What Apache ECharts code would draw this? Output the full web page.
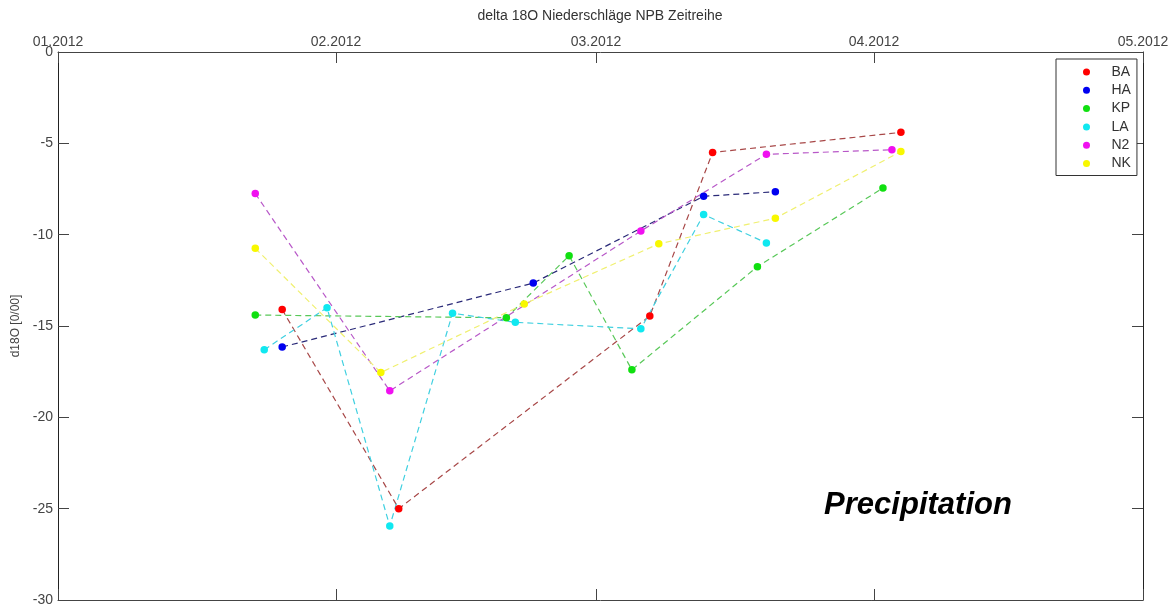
<!DOCTYPE html>
<html>
<head>
<meta charset="utf-8">
<style>
  html, body { margin: 0; padding: 0; background: #fff; }
  #chart { width: 1173px; height: 609px; }
</style>
<script src="https://cdn.jsdelivr.net/npm/echarts@6/dist/echarts.min.js"></script>
</head>
<body>
<div id="chart"></div>
<script>
// delta 18O in precipitation, one array pair per station
const baDates = ['2012-01-26', '2012-02-08', '2012-03-07', '2012-03-14', '2012-04-04'];
const baValues = [-14.1, -25.0, -14.45, -5.5, -4.4];

const haDates = ['2012-01-26', '2012-02-23', '2012-03-13', '2012-03-21'];
const haValues = [-16.15, -12.65, -7.9, -7.65];

const kpDates = ['2012-01-23', '2012-02-20', '2012-02-27', '2012-03-05', '2012-03-19', '2012-04-02'];
const kpValues = [-14.4, -14.55, -11.15, -17.4, -11.75, -7.45];

const laDates = ['2012-01-24', '2012-01-31', '2012-02-07', '2012-02-14', '2012-02-21', '2012-03-06', '2012-03-13', '2012-03-20'];
const laValues = [-16.3, -14.0, -25.95, -14.3, -14.8, -15.15, -8.9, -10.45];

const n2Dates = ['2012-01-23', '2012-02-07', '2012-03-06', '2012-03-20', '2012-04-03'];
const n2Values = [-7.75, -18.55, -9.8, -5.6, -5.35];

const nkDates = ['2012-01-23', '2012-02-06', '2012-02-22', '2012-03-08', '2012-03-21', '2012-04-04'];
const nkValues = [-10.75, -17.55, -13.8, -10.5, -9.1, -5.45];

const stationNames = ['BA', 'HA', 'KP', 'LA', 'N2', 'NK'];
const monthTickDates = ['2012-01-01', '2012-02-01', '2012-03-01', '2012-04-01', '2012-05-01'];

const markerColors = ['#ff0000', '#0000f0', '#10e010', '#10e8f0', '#f010f0', '#f8f800'];
const lineColors = ['#a84848', '#2a2a78', '#58c858', '#40d0e0', '#b858c8', '#f0f070'];

// dates -> ms, the x axis is a plain value axis in ms
const toMs = (s) => {
  const p = s.split('-').map(Number);
  return new Date(p[0], p[1] - 1, p[2]).getTime();
};
const zip = (dates, values) => dates.map((d, i) => [toMs(d), values[i]]);
const stationData = [
  zip(baDates, baValues),
  zip(haDates, haValues),
  zip(kpDates, kpValues),
  zip(laDates, laValues),
  zip(n2Dates, n2Values),
  zip(nkDates, nkValues),
];
const monthTicks = monthTickDates.map(toMs);

const fmtMonth = (v) => {
  const d = new Date(v);
  const m = d.getMonth() + 1;
  return (m < 10 ? '0' + m : m) + '.' + d.getFullYear();
};

const axisColor = '#444';
const labelStyle = {
  color: '#444',
  fontSize: 14,
  fontFamily: '"Liberation Sans", Arial, sans-serif',
};

const chart = echarts.init(document.getElementById('chart'));

chart.setOption({
  animation: false,
  backgroundColor: '#fff',
  grid: {
    left: 58,
    top: 52,
    right: 30,
    bottom: 9,
  },
  legend: {
    left: 1056,
    top: 59,
    orient: 'vertical',
    data: stationNames,
    icon: 'circle',
    itemWidth: 40,
    itemHeight: 7,
    itemGap: 4.3,
    padding: [6, 6, 5, 27],
    borderColor: '#333',
    borderWidth: 1,
    backgroundColor: '#fff',
    textStyle: {
      color: '#333',
      fontSize: 14,
      lineHeight: 14,
      fontFamily: '"Liberation Sans", Arial, sans-serif',
    },
  },
  graphic: [
    {
      type: 'text',
      x: 600,
      y: 9,
      style: {
        text: 'delta 18O Niederschläge NPB Zeitreihe',
        fill: '#333',
        font: '14px "Liberation Sans", Arial, sans-serif',
        textAlign: 'center',
      },
    },
    {
      type: 'text',
      x: 918,
      y: 505,
      style: {
        text: 'Precipitation',
        fill: '#000',
        font: 'italic bold 31px "Liberation Sans", Arial, sans-serif',
        textAlign: 'center',
        textVerticalAlign: 'middle',
      },
    },
  ],
  xAxis: [
    {
      type: 'value',
      position: 'top',
      min: monthTicks[0],
      max: monthTicks[4],
      axisLine: { onZero: false, lineStyle: { color: axisColor } },
      axisTick: {
        inside: true,
        length: 11,
        customValues: monthTicks,
        lineStyle: { color: axisColor },
      },
      axisLabel: {
        ...labelStyle,
        margin: 3,
        customValues: monthTicks,
        showMinLabel: true,
        showMaxLabel: true,
        formatter: fmtMonth,
      },
      splitLine: { show: false },
    },
    {
      type: 'value',
      position: 'bottom',
      min: monthTicks[0],
      max: monthTicks[4],
      axisLine: { onZero: false, lineStyle: { color: axisColor } },
      axisTick: {
        inside: true,
        length: 11,
        customValues: monthTicks,
        lineStyle: { color: axisColor },
      },
      axisLabel: { show: false },
      splitLine: { show: false },
    },
  ],
  yAxis: [
    {
      type: 'value',
      min: -30,
      max: 0,
      interval: 5,
      name: 'd18O [0/00]',
      nameLocation: 'middle',
      nameGap: 25,
      nameTextStyle: { ...labelStyle, fontSize: 12 },
      axisLine: { show: true, onZero: false, lineStyle: { color: '#222' } },
      axisTick: { show: true, inside: true, length: 11, lineStyle: { color: axisColor } },
      axisLabel: { ...labelStyle, margin: 5 },
      splitLine: { show: false },
    },
    {
      type: 'value',
      position: 'right',
      min: -30,
      max: 0,
      interval: 5,
      axisLine: { show: true, onZero: false, lineStyle: { color: '#222' } },
      axisTick: { show: true, inside: true, length: 11, lineStyle: { color: axisColor } },
      axisLabel: { show: false },
      splitLine: { show: false },
    },
  ],
  series: stationNames.map((name, i) => ({
    name,
    type: 'line',
    xAxisIndex: 0,
    yAxisIndex: 0,
    data: stationData[i],
    symbol: 'circle',
    symbolSize: 7.5,
    itemStyle: { color: markerColors[i] },
    lineStyle: {
      color: lineColors[i],
      width: 1.2,
      type: [6, 4],
    },
  })),
});
</script>
</body>
</html>
